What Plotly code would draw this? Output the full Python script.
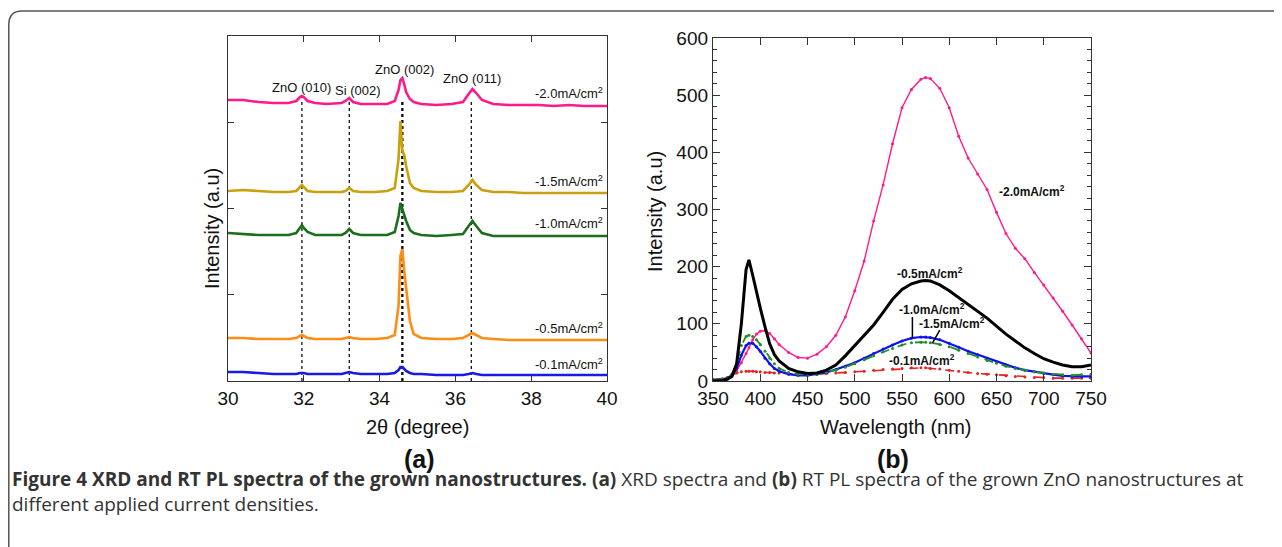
import plotly.graph_objects as go

W, H = 1282, 547
OFF = 8  # page body margin of the html page

# ---------------- XRD data (panel a) ----------------
xrd_two_theta = [30.0, 30.4, 30.8, 31.2, 31.6, 31.8, 31.9, 31.95, 32.0, 32.1, 32.3, 32.6,
                 33.0, 33.1, 33.2, 33.3, 33.5, 33.9, 34.2, 34.4, 34.5, 34.55, 34.6, 34.65,
                 34.7, 34.8, 34.9, 35.1, 35.5, 35.9, 36.2, 36.35, 36.45, 36.55, 36.7, 37.0,
                 37.4, 37.8, 38.2, 38.6, 39.0, 39.4, 39.8, 40.0]
xrd_2_0 = [281, 281, 279, 278, 278, 280, 284, 285, 284, 280, 278, 277, 278, 280, 283, 279, 277, 277,
           277, 280, 291, 301, 303, 297, 289, 282, 279, 277, 276, 277, 279, 287, 292, 288, 281, 277,
           276, 276, 276, 275, 276, 275, 275, 275]
xrd_1_5 = [190, 191, 190, 189, 189, 190, 194, 196, 194, 190, 189, 189, 189, 190, 193, 190, 189, 189,
           190, 193, 222, 260, 230, 226, 215, 198, 193, 190, 189, 189, 190, 196, 201, 196, 191, 189,
           189, 188, 188, 188, 188, 188, 188, 188]
xrd_1_0 = [148, 147, 146, 146, 146, 148, 154, 156, 153, 149, 146, 146, 146, 148, 152, 148, 146, 146,
           146, 149, 165, 178, 172, 168, 160, 151, 148, 146, 145, 146, 147, 155, 160, 155, 148, 145,
           145, 145, 145, 145, 145, 145, 145, 145]
xrd_0_5 = [43, 43, 42, 42, 42, 43, 45, 46, 45, 43, 42, 42, 42, 43, 44, 43, 42, 42,
           43, 46, 75, 125, 132, 110, 92, 60, 47, 43, 42, 42, 43, 46, 48, 46, 43, 42,
           41, 41, 41, 41, 41, 41, 41, 41]
xrd_0_1 = [9, 9, 8, 7, 7, 7, 8, 8, 8, 7, 7, 7, 7, 8, 9, 8, 7, 7,
           7, 8, 11, 14, 14, 12, 10, 8, 7, 7, 6, 6, 6, 7, 8, 7, 6, 6,
           6, 6, 6, 6, 6, 6, 6, 6]
xrd_series = [("-2.0", xrd_2_0, "#ff1a8c"), ("-1.5", xrd_1_5, "#c9a10e"),
              ("-1.0", xrd_1_0, "#1b6e1b"), ("-0.5", xrd_0_5, "#ff8c14"),
              ("-0.1", xrd_0_1, "#1a1ae0")]
xrd_label_y = [288, 200, 158, 53, 17]
peak_pos = [31.95, 33.2, 34.6, 36.42]
peak_names = ["ZnO (010)", "Si (002)", "ZnO (002)", "ZnO (011)"]
peak_label_x = [31.95, 33.43, 34.67, 36.44]
peak_label_y = [294, 291, 312, 303]
xrd_line_top = 282

# ---------------- PL data (panel b) ----------------
wl = [350, 360, 365, 370, 375, 380, 385, 388, 392, 396, 400, 405, 410, 415, 420, 430, 440, 450,
      460, 470, 480, 490, 500, 510, 520, 530, 540, 550, 560, 570, 575, 580, 590, 600, 610, 620,
      630, 640, 650, 660, 670, 680, 690, 700, 710, 720, 730, 740, 750]
pl_2_0 = [2, 3, 5, 10, 18, 32, 48, 58, 72, 82, 87, 88, 83, 74, 64, 50, 41, 40,
          47, 60, 80, 112, 158, 210, 280, 343, 415, 478, 510, 528, 531, 529, 512, 478, 428, 390,
          362, 335, 295, 258, 232, 214, 190, 168, 145, 122, 98, 74, 49]
pl_0_5 = [0, 1, 3, 8, 30, 100, 195, 212, 185, 155, 128, 95, 65, 46, 35, 22, 16, 13,
          14, 19, 28, 44, 62, 80, 98, 120, 143, 160, 170, 175, 176, 175, 168, 158, 146, 135,
          122, 110, 96, 82, 70, 58, 48, 39, 33, 28, 25, 25, 28]
pl_1_0 = [2, 3, 5, 10, 22, 45, 62, 66, 66, 60, 52, 40, 30, 22, 17, 12, 10, 10,
          12, 15, 20, 26, 32, 40, 48, 56, 63, 70, 75, 77, 77, 76, 72, 66, 59, 52,
          46, 40, 34, 28, 23, 19, 16, 13, 11, 9, 8, 8, 8]
pl_1_5 = [2, 3, 5, 12, 30, 62, 78, 80, 78, 72, 64, 52, 40, 30, 22, 15, 12, 11,
          12, 15, 19, 24, 30, 37, 44, 51, 57, 63, 67, 68, 68, 67, 64, 60, 54, 48,
          42, 36, 31, 26, 22, 19, 16, 14, 12, 11, 10, 11, 12]
pl_0_1 = [2, 4, 6, 10, 14, 16, 17, 17, 17, 16, 16, 15, 15, 14, 14, 13, 12, 12,
          12, 13, 14, 15, 16, 17, 19, 20, 21, 22, 23, 23, 23, 22, 21, 19, 17, 15,
          13, 12, 11, 9, 8, 7, 6, 6, 5, 5, 5, 5, 5]
pl_labels = ["-2.0", "-0.5", "-1.0", "-1.5", "-0.1"]
pl_label_x = [688, 580, 582, 603, 571]
pl_label_y = [332, 189, 126, 101, 37]

fig = go.Figure()

# dotted reference lines (panel a)
for i, p in enumerate(peak_pos):
    fig.add_trace(go.Scatter(x=[p, p], y=[0, xrd_line_top], mode="lines",
                             line=dict(color="#111", width=2.4 if i == 2 else 1.3, dash="dot"),
                             xaxis="x", yaxis="y", showlegend=False, hoverinfo="skip"))
for name, ys, col in xrd_series:
    fig.add_trace(go.Scatter(x=xrd_two_theta, y=ys, mode="lines", name=name,
                             line=dict(color=col, width=2.6), xaxis="x", yaxis="y",
                             showlegend=False))

# PL curves (panel b)
fig.add_trace(go.Scatter(x=wl, y=pl_2_0, mode="lines+markers", line=dict(color="#ff1a8c", width=1.4),
                         marker=dict(size=3, color="#ff1a8c"), xaxis="x2", yaxis="y2", showlegend=False))
fig.add_trace(go.Scatter(x=wl, y=pl_0_1, mode="lines+markers", line=dict(color="#e82020", width=1.6, dash="dash"),
                         marker=dict(size=3, color="#e82020"), xaxis="x2", yaxis="y2", showlegend=False))
fig.add_trace(go.Scatter(x=wl, y=pl_1_0, mode="lines+markers", line=dict(color="#1010f0", width=2.2),
                         marker=dict(size=3, color="#1010f0"), xaxis="x2", yaxis="y2", showlegend=False))
fig.add_trace(go.Scatter(x=wl, y=pl_1_5, mode="lines+markers", line=dict(color="#1f8f2a", width=1.8, dash="dash"),
                         marker=dict(size=3, color="#1f8f2a"), xaxis="x2", yaxis="y2", showlegend=False))
fig.add_trace(go.Scatter(x=wl, y=pl_0_5, mode="lines", line=dict(color="#000", width=3),
                         xaxis="x2", yaxis="y2", showlegend=False))

annotations = []
# curve labels panel a
for (name, ys, col), yl in zip(xrd_series, xrd_label_y):
    annotations.append(dict(x=39.95, y=yl, xref="x", yref="y", xanchor="right", yanchor="middle",
                            text=name + "mA/cm<sup>2</sup>", showarrow=False,
                            font=dict(family="Liberation Sans, Arial", size=13, color="#111")))
for nm, lx, ly in zip(peak_names, peak_label_x, peak_label_y):
    annotations.append(dict(x=lx, y=ly, xref="x", yref="y", xanchor="center", yanchor="middle",
                            text=nm, showarrow=False,
                            font=dict(family="Liberation Sans, Arial", size=13, color="#111")))
# curve labels panel b
for nm, lx, ly in zip(pl_labels, pl_label_x, pl_label_y):
    annotations.append(dict(x=lx, y=ly, xref="x2", yref="y2", xanchor="center", yanchor="middle",
                            text="<b>" + nm + "mA/cm<sup>2</sup></b>", showarrow=False,
                            font=dict(family="Liberation Sans, Arial", size=12, color="#111")))

def px(x):
    return (x - OFF) / W

def py(y):
    return 1 - (y - OFF) / H

title_font = dict(family="Liberation Sans, Arial", size=20, color="#111")
annotations += [
    dict(x=px(212), y=py(229), xref="paper", yref="paper", text="Intensity (a.u)", textangle=-90,
         showarrow=False, font=title_font, xanchor="center", yanchor="middle"),
    dict(x=px(655), y=py(212), xref="paper", yref="paper", text="Intensity (a.u)", textangle=-90,
         showarrow=False, font=title_font, xanchor="center", yanchor="middle"),
    dict(x=px(417), y=py(427), xref="paper", yref="paper", text="2θ (degree)",
         showarrow=False, font=title_font, xanchor="center", yanchor="middle"),
    dict(x=px(896), y=py(427), xref="paper", yref="paper", text="Wavelength (nm)",
         showarrow=False, font=title_font, xanchor="center", yanchor="middle"),
    dict(x=px(419), y=py(459), xref="paper", yref="paper", text="<b>(a)</b>",
         showarrow=False, font=dict(family="Liberation Sans, Arial", size=25, color="#111"),
         xanchor="center", yanchor="middle"),
    dict(x=px(893), y=py(459), xref="paper", yref="paper", text="<b>(b)</b>",
         showarrow=False, font=dict(family="Liberation Sans, Arial", size=25, color="#111"),
         xanchor="center", yanchor="middle"),
    dict(x=px(10), y=py(464), xref="paper", yref="paper", xanchor="left", yanchor="top", align="left",
         text=("<b>Figure 4 XRD and RT PL spectra of the grown nanostructures.</b> <b>(a)</b> XRD spectra and "
               "<b>(b)</b> RT PL spectra of the grown ZnO nanostructures at<br>different applied current densities."),
         showarrow=False, font=dict(family="Open Sans", size=19, color="#333")),
]

shapes = [
    # pointer lines panel b
    dict(type="line", xref="x2", yref="y2", x0=561, x1=561, y0=112, y1=76,
         line=dict(color="#000", width=1.5)),
    dict(type="line", xref="x2", yref="y2", x0=590, x1=582, y0=89, y1=66,
         line=dict(color="#000", width=1.5)),
    # outer rounded frame
    dict(type="path", xref="paper", yref="paper",
         path=(f"M {px(8.8)},{py(570)} L {px(8.8)},{py(25)} Q {px(8.8)},{py(11)} {px(22)},{py(11)} "
               f"L {px(1300)},{py(11)}"),
         line=dict(color="#555", width=1.5)),
]

axis_common = dict(showgrid=False, zeroline=False, showline=True, linecolor="#333", linewidth=1.3,
                   mirror="ticks", ticks="inside", tickcolor="#333",
                   tickfont=dict(family="Liberation Sans, Arial", size=19, color="#111"))

fig.update_layout(
    width=W, height=H, margin=dict(l=0, r=0, t=0, b=0, pad=0, autoexpand=False),
    paper_bgcolor="white", plot_bgcolor="white", showlegend=False,
    xaxis=dict(domain=[px(228), px(607)], range=[30, 40], tickmode="linear", tick0=30, dtick=2,
               ticklen=6, anchor="y", **axis_common),
    yaxis=dict(domain=[py(381), py(36)], range=[0, 345], tickmode="linear", tick0=0, dtick=86.25,
               ticklen=6, showticklabels=False, anchor="x", **axis_common),
    xaxis2=dict(domain=[px(713), px(1091)], range=[350, 750], tickmode="linear", tick0=350, dtick=50,
                ticklen=7, anchor="y2", **axis_common),
    yaxis2=dict(domain=[py(381), py(38)], range=[0, 600], tickmode="linear", tick0=0, dtick=100,
                ticklen=7, anchor="x2", minor=dict(ticks="inside", dtick=20, ticklen=4, tickcolor="#333"),
                **axis_common),
    annotations=annotations, shapes=shapes,
)

fig.write_html("out.html")
